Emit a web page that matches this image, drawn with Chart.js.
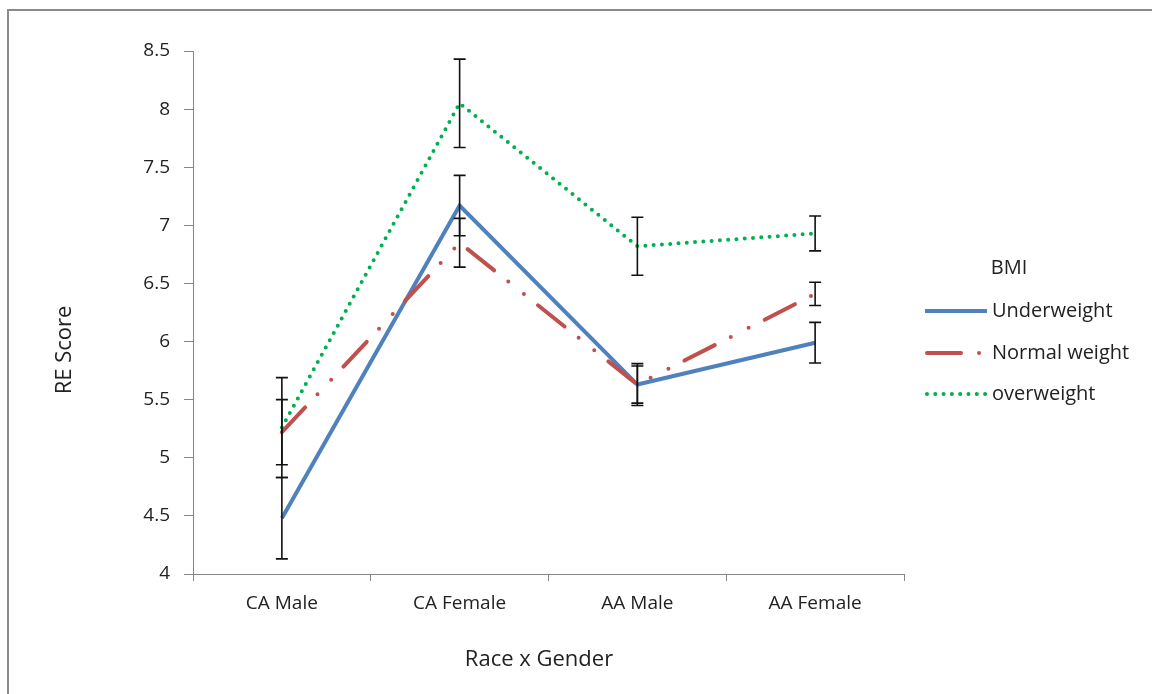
<!DOCTYPE html>
<html>
<head>
<meta charset="utf-8">
<script src="https://cdn.jsdelivr.net/npm/chart.js@4/dist/chart.umd.min.js"></script>
<style>
  html, body { margin: 0; padding: 0; background: #fff; }
  canvas { display: block; }
</style>
</head>
<body>
<canvas id="c" width="1152" height="694"></canvas>
<script>
// ---- data ----
const categories = ['CA Male', 'CA Female', 'AA Male', 'AA Female'];
const seriesNames = ['Underweight', 'Normal weight', 'overweight'];
const underweight = [4.48, 7.17, 5.63, 5.99];
const underweightErr = [0.35, 0.26, 0.16, 0.175];
const normalWeight = [5.22, 6.85, 5.63, 6.41];
const normalWeightErr = [0.28, 0.21, 0.18, 0.10];
const overweight = [5.26, 8.05, 6.82, 6.93];
const overweightErr = [0.43, 0.38, 0.25, 0.15];
const yTicks = [4, 4.5, 5, 5.5, 6, 6.5, 7, 7.5, 8, 8.5];
const legendTitle = 'BMI';
const xTitle = 'Race x Gender';
const yTitle = 'RE Score';

const FONT = "'Open Sans', 'Noto Sans', sans-serif";
const TEXT = '#222222';
const AXIS = '#868686';

const borderPlugin = {
  id: 'frame',
  beforeDraw(chart) {
    const ctx = chart.ctx;
    ctx.save();
    ctx.fillStyle = '#fff';
    ctx.fillRect(0, 0, chart.width, chart.height);
    ctx.strokeStyle = '#8a8a8a';
    ctx.lineWidth = 2;
    ctx.strokeRect(8, 10, chart.width + 20, chart.height + 20);
    ctx.restore();
  }
};

const errorBarPlugin = {
  id: 'errorBars',
  afterDatasetsDraw(chart) {
    const ctx = chart.ctx;
    const ys = chart.scales.y;
    ctx.save();
    ctx.strokeStyle = '#111';
    ctx.lineWidth = 1.6;
    chart.data.datasets.forEach((ds, di) => {
      const meta = chart.getDatasetMeta(di);
      ds.data.forEach((v, i) => {
        const e = ds.errors[i];
        const x = meta.data[i].x;
        const yt = ys.getPixelForValue(v + e);
        const yb = ys.getPixelForValue(v - e);
        ctx.beginPath();
        ctx.moveTo(x, yt); ctx.lineTo(x, yb);
        ctx.moveTo(x - 6, yt); ctx.lineTo(x + 6, yt);
        ctx.moveTo(x - 6, yb); ctx.lineTo(x + 6, yb);
        ctx.stroke();
      });
    });
    ctx.restore();
  }
};

const textPlugin = {
  id: 'titlesAndLegend',
  afterDraw(chart) {
    const ctx = chart.ctx;
    ctx.save();
    ctx.fillStyle = TEXT;
    // axis titles
    ctx.font = '22px ' + FONT;
    ctx.textAlign = 'center';
    ctx.textBaseline = 'middle';
    ctx.fillText(xTitle, 539, 660);
    ctx.save();
    ctx.translate(65, 350);
    ctx.rotate(-Math.PI / 2);
    ctx.fillText(yTitle, 0, 0);
    ctx.restore();
    // legend
    ctx.font = '20px ' + FONT;
    ctx.fillText(legendTitle, 1009, 268);
    const rows = [311, 353, 394];
    chart.data.datasets.forEach((ds, i) => {
      const y = rows[i];
      ctx.save();
      ctx.strokeStyle = ds.borderColor;
      ctx.lineWidth = ds.borderWidth;
      ctx.lineCap = ds.borderCapStyle || 'butt';
      ctx.setLineDash(ds.borderDash || []);
      ctx.beginPath();
      const x0 = ds.borderCapStyle === 'round' ? 927 : 925;
      ctx.moveTo(x0, y);
      ctx.lineTo(987, y);
      ctx.stroke();
      ctx.restore();
      ctx.fillStyle = TEXT;
      ctx.font = '20px ' + FONT;
      ctx.textAlign = 'left';
      ctx.textBaseline = 'middle';
      ctx.fillText(ds.label, 992, y);
    });
    ctx.restore();
  }
};

new Chart(document.getElementById('c'), {
  type: 'line',
  data: {
    labels: categories,
    datasets: [
      {
        label: seriesNames[0], data: underweight, errors: underweightErr,
        borderColor: '#4F81BD', borderWidth: 4, order: 3,
        borderCapStyle: 'butt', borderDash: []
      },
      {
        label: seriesNames[1], data: normalWeight, errors: normalWeightErr,
        borderColor: '#C0504D', borderWidth: 4, order: 2,
        borderCapStyle: 'round', borderDash: [34, 18, 0, 20, 0, 18]
      },
      {
        label: seriesNames[2], data: overweight, errors: overweightErr,
        borderColor: '#00B050', borderWidth: 4, order: 1,
        borderCapStyle: 'round', borderDash: [0, 8.3]
      }
    ]
  },
  options: {
    responsive: false,
    animation: false,
    devicePixelRatio: 1,
    layout: { padding: { left: 0, top: 51, right: 248, bottom: 0 } },
    elements: { point: { radius: 0, hoverRadius: 0 }, line: { tension: 0, fill: false } },
    plugins: { legend: { display: false }, tooltip: { enabled: false } },
    scales: {
      x: {
        type: 'category',
        offset: true,
        grid: { offset: true, drawOnChartArea: false, drawTicks: true, tickLength: 7, color: AXIS, lineWidth: 1 },
        border: { display: true, color: AXIS, width: 1 },
        ticks: { color: TEXT, font: { family: FONT, size: 19 }, padding: 11, maxRotation: 0 },
        title: { display: false },
        afterFit(scale) { scale.height = 120; }
      },
      y: {
        min: 4, max: 8.5,
        afterBuildTicks(scale) { scale.ticks = yTicks.map(v => ({ value: v })); },
        grid: { drawOnChartArea: false, drawTicks: true, tickLength: 9, color: AXIS, lineWidth: 1 },
        border: { display: true, color: AXIS, width: 1 },
        ticks: { color: TEXT, font: { family: FONT, size: 19 }, padding: 14, callback: v => String(v) },
        title: { display: false },
        afterFit(scale) { scale.width = 193; }
      }
    }
  },
  plugins: [borderPlugin, errorBarPlugin, textPlugin]
});
</script>
</body>
</html>
